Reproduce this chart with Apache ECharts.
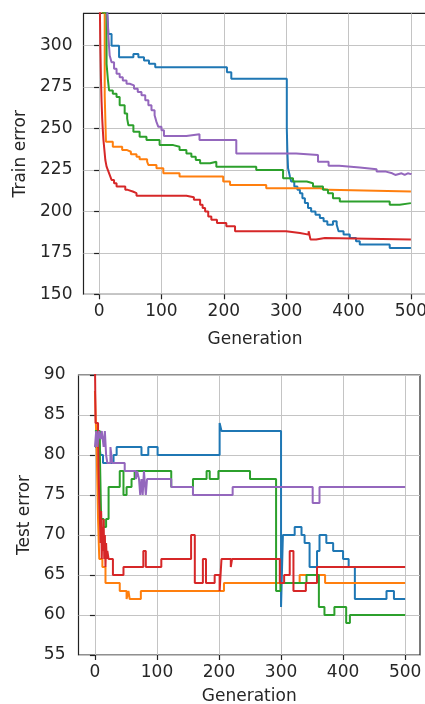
<!DOCTYPE html>
<html>
<head>
<meta charset="utf-8">
<script src="https://cdn.jsdelivr.net/npm/echarts@6/dist/echarts.min.js"></script>
<style>
  html, body { margin: 0; padding: 0; background: #ffffff; }
  #chart { width: 425px; height: 704px; }
</style>
</head>
<body>
<div id="chart"></div>
<script>
// Tick labels
const generationTicks = [0, 100, 200, 300, 400, 500];
const trainTicks = [150, 175, 200, 225, 250, 275, 300];
const testTicks = [55, 60, 65, 70, 75, 80, 85, 90];

// Best-so-far training error per run: [generation, error], held until the next entry
const trainRun1 = [[0,360],[13,320],[15,307],[20,300],[32,293],[55,295],[63,293],[72,291],[80,289],[90,287],[205,284],[212,280],[296,281],[299,280],[301,250],[302,235],[303,226],[306,221],[308,218],[313,215],[318,213],[322,211],[326,208],[330,205],[335,202],[340,200],[347,198],[354,196],[360,194],[366,192],[375,194],[381,192],[384,188],[392,186],[402,184],[412,182],[418,180],[466,178],[500,178]];
const trainRun2 = [[0,360],[5,320],[9,270],[11,242],[22,239],[37,237],[45,236],[51,234.5],[60,233],[65,231.5],[77,230],[79,228],[92,226],[103,223],[129,221],[199,218],[210,216],[268,214],[354,213],[368,212],[500,212]];
const trainRun3 = [[0,360],[6,320],[12,289],[14,280],[16,273],[22,271],[28,269],[33,264],[41,259],[45,256],[47,252],[55,248],[65,245],[76,243],[97,240],[119,239],[129,237],[140,235],[148,233],[155,231],[162,229],[178,230],[188,227],[252,225],[295,220],[311,218],[333,217],[343,215],[359,213],[367,211],[375,208],[386,206],[466,204],[482,205],[500,205]];
const trainRun4 = [[0,400],[1,330],[2,300],[3,280],[4,266],[5,256],[6,249],[7,243],[8,239],[9,235],[10,231],[12,227],[14,225],[17,222],[20,219],[24,217],[28,215],[42,213],[46,212],[54,211],[60,209.5],[140,208.5],[152,207],[162,204],[166,202],[170,200],[175,197],[180,195],[189,193],[204,191],[218,188],[300,187],[322,186],[336,188],[339,183],[348,184],[362,183],[500,183]];
const trainRun5 = [[0,360],[13,320],[15,305],[17,294],[20,290],[24,286],[28,283],[33,281],[38,279],[44,277],[49,276],[56,274],[62,272],[68,270],[74,267],[79,264],[84,261],[89,258],[92,254],[95,251],[100,249],[104,245.5],[140,246.5],[161,243],[220,235],[316,234],[351,230],[368,227.5],[385,226.5],[418,225.5],[445,224],[460,223],[470,222],[475,223],[485,222],[490,223],[495,222.5],[500,223]];

// Test error of the best individual per run
const testRun1 = [[0,81],[6,82],[9,80],[13,79],[30,80],[35,81],[75,80],[86,81],[101,80],[201,84],[204,83],[300,61],[303,70],[322,71],[333,70],[338,69],[346,66],[358,68],[362,70],[373,69],[384,68],[400,67],[409,66],[419,62],[470,63],[482,62],[500,62]];
const testRun2 = [[0,88],[3,80],[5,72],[7,67],[12,66],[17,64],[40,63],[51,62],[54,63],[56,62],[74,63],[208,64],[330,65],[371,64],[500,64]];
const testRun3 = [[0,83],[8,80],[10,72],[14,71],[18,72],[22,76],[40,78],[46,75],[51,76],[59,77],[64,78],[123,76],[158,77],[180,78],[185,77],[199,78],[250,77],[292,63],[299,64],[341,65],[361,61],[370,60],[386,61],[405,59],[411,60],[500,60]];
const testRun4 = [[0,92],[1,84],[5,82],[6,78],[7,74],[8,72],[9,69],[10,73],[11,67],[12,71],[13,68],[14,72],[15,67],[16,70],[17,66],[18,69],[19,67],[20,68],[22,67],[29,65],[46,66],[78,68],[82,66],[107,67],[155,70],[161,64],[174,67],[179,64],[193,65],[201,63],[204,67],[219,66],[221,67],[298,64],[305,65],[314,68],[320,63],[340,64],[358,66],[500,66]];
const testRun5 = [[0,81],[2,83],[4,81],[6,83],[9,82],[11,83],[14,81],[16,83],[18,80],[20,79],[25,81],[28,79],[48,78],[66,77],[68,78],[71,77],[73,75],[75,77],[77,75],[79,78],[82,75],[84,77],[123,76],[158,75],[222,76],[351,74],[362,76],[500,76]];

const runColors = ['#1f77b4', '#ff7f0e', '#2ca02c', '#d62728', '#9467bd'];
const trainRuns = [trainRun1, trainRun2, trainRun3, trainRun4, trainRun5];
const testRuns = [testRun1, testRun2, testRun3, testRun4, testRun5];

const FONT = 'DejaVu Sans';
const TEXT = '#262626';
const labelStyle = { fontFamily: FONT, fontSize: 17, color: TEXT };
const gridLine = { show: true, lineStyle: { color: '#c4c4c4', width: 1 } };

function xAxisFor(gridIndex, min, max, nameGap) {
  return {
    type: 'value', gridIndex, min, max,
    name: 'Generation', nameLocation: 'middle', nameGap,
    nameTextStyle: labelStyle,
    axisLine: { show: false },
    axisTick: { show: true, length: 5, customValues: generationTicks, lineStyle: { color: '#222', width: 1.2 } },
    axisLabel: Object.assign({ customValues: generationTicks, margin: 9 }, labelStyle),
    splitLine: gridLine
  };
}
function yAxisFor(gridIndex, min, max, ticks, name, nameGap, margin) {
  return {
    type: 'value', gridIndex, min, max,
    name, nameLocation: 'middle', nameGap,
    nameTextStyle: labelStyle,
    axisLine: { show: false },
    axisTick: { show: true, length: 5, customValues: ticks, lineStyle: { color: '#222', width: 1.2 } },
    axisLabel: Object.assign({ customValues: ticks, margin }, labelStyle),
    splitLine: gridLine
  };
}

function runSeries(runs, axisIndex) {
  return runs.map((data, i) => ({
    type: 'line', xAxisIndex: axisIndex, yAxisIndex: axisIndex,
    data, step: 'end', symbol: 'none', clip: true,
    lineStyle: { color: runColors[i], width: 2 },
    emphasis: { disabled: true }
  }));
}

const chart = echarts.init(document.getElementById('chart'), null, { renderer: 'canvas' });
chart.setOption({
  animation: false,
  backgroundColor: '#ffffff',
  grid: [
    { left: 83.5, top: 13.3, width: 343, height: 281, outerBoundsMode: 'none', containLabel: false,
      show: true, borderColor: '#222', borderWidth: 1.2, backgroundColor: 'transparent' },
    { left: 78.5, top: 375, width: 341.5, height: 280, outerBoundsMode: 'none', containLabel: false,
      show: true, borderColor: '#222', borderWidth: 1.2, backgroundColor: 'transparent' }
  ],
  xAxis: [
    xAxisFor(0, -25, 525, 37),
    xAxisFor(1, -26.5, 524, 33)
  ],
  yAxis: [
    yAxisFor(0, 150, 319.5, trainTicks, 'Train error', 54, 11),
    yAxisFor(1, 55, 90, testTicks, 'Test error', 43, 13)
  ],
  series: runSeries(trainRuns, 0).concat(runSeries(testRuns, 1))
});
</script>
</body>
</html>
